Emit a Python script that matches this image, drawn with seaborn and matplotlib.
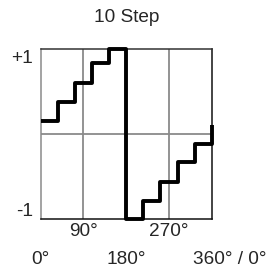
import matplotlib
matplotlib.use("Agg")
import matplotlib.pyplot as plt
import matplotlib.transforms as mtransforms
import seaborn as sns
import pandas as pd

# data
step_edges = [0, 36, 72, 108, 144, 180, 216, 252, 288, 324, 360]
step_values = [0.15, 0.37, 0.60, 0.83, 1.0, -1.0, -0.79, -0.56, -0.33, -0.12]
end_value = 0.11
title = "10 Step"
upper_ticks = [90, 270]
upper_labels = ["90°", "270°"]
lower_ticks = [0, 180]
lower_labels = ["0°", "180°"]
wrap_label = "360° / 0°"

sns.set_theme(style="white")
plt.rcParams['font.family'] = ['Liberation Sans', 'DejaVu Sans']

xs = step_edges + [step_edges[-1]]
ys = step_values + [step_values[-1], end_value]
df = pd.DataFrame({"x": xs, "y": ys})

W, H = 269, 275
fig = plt.figure(figsize=(W / 100, H / 100), dpi=100)
ax = fig.add_axes([40.7 / W, 1 - 219.3 / H, (211.7 - 40.7) / W, (219.3 - 48.7) / H])

for xv in [90, 270]:
    ax.axvline(xv, color="#8a8a8a", lw=1.3, zorder=1)
ax.axhline(0, color="#8a8a8a", lw=1.3, zorder=1)

sns.lineplot(data=df, x="x", y="y", ax=ax, estimator=None, sort=False,
             drawstyle="steps-post", color="black", lw=2.8, zorder=3)
for l in ax.lines:
    l.set_clip_on(False)
    l.set_solid_capstyle("butt")

ax.set_xlim(0, 360)
ax.set_ylim(-1, 1)
ax.set_xticks([])
ax.set_yticks([])
ax.set_xlabel("")
ax.set_ylabel("")
for side, col in [("left", "#8a8a8a"), ("top", "#333333"), ("right", "#111111"), ("bottom", "#111111")]:
    ax.spines[side].set_visible(True)
    ax.spines[side].set_color(col)
    ax.spines[side].set_linewidth(1.1)

fs = 13.7
trans_x = mtransforms.blended_transform_factory(ax.transData, fig.transFigure)
y_row1 = 1 - 232 / H
y_row2 = 1 - 260 / H
for t, lab in zip(upper_ticks, upper_labels):
    ax.text(t, y_row1, lab, transform=trans_x, ha="center", va="center", fontsize=fs)
for t, lab in zip(lower_ticks, lower_labels):
    ax.text(t, y_row2, lab, transform=trans_x, ha="center", va="center", fontsize=fs)
ax.annotate(wrap_label, xy=(360, y_row2), xycoords=trans_x, xytext=(-13.5, 0),
            textcoords="offset points", ha="left", va="center", fontsize=fs,
            annotation_clip=False)

trans_y = mtransforms.blended_transform_factory(fig.transFigure, ax.transData)
ax.text(33 / W, 0.88, "+1", transform=trans_y, ha="right", va="center", fontsize=fs)
ax.text(33 / W, -0.905, "-1", transform=trans_y, ha="right", va="center", fontsize=fs)

fig.text(126.5 / W, 1 - 17 / H, title, ha="center", va="center", fontsize=fs)

fig.savefig("out.png", dpi=100)
